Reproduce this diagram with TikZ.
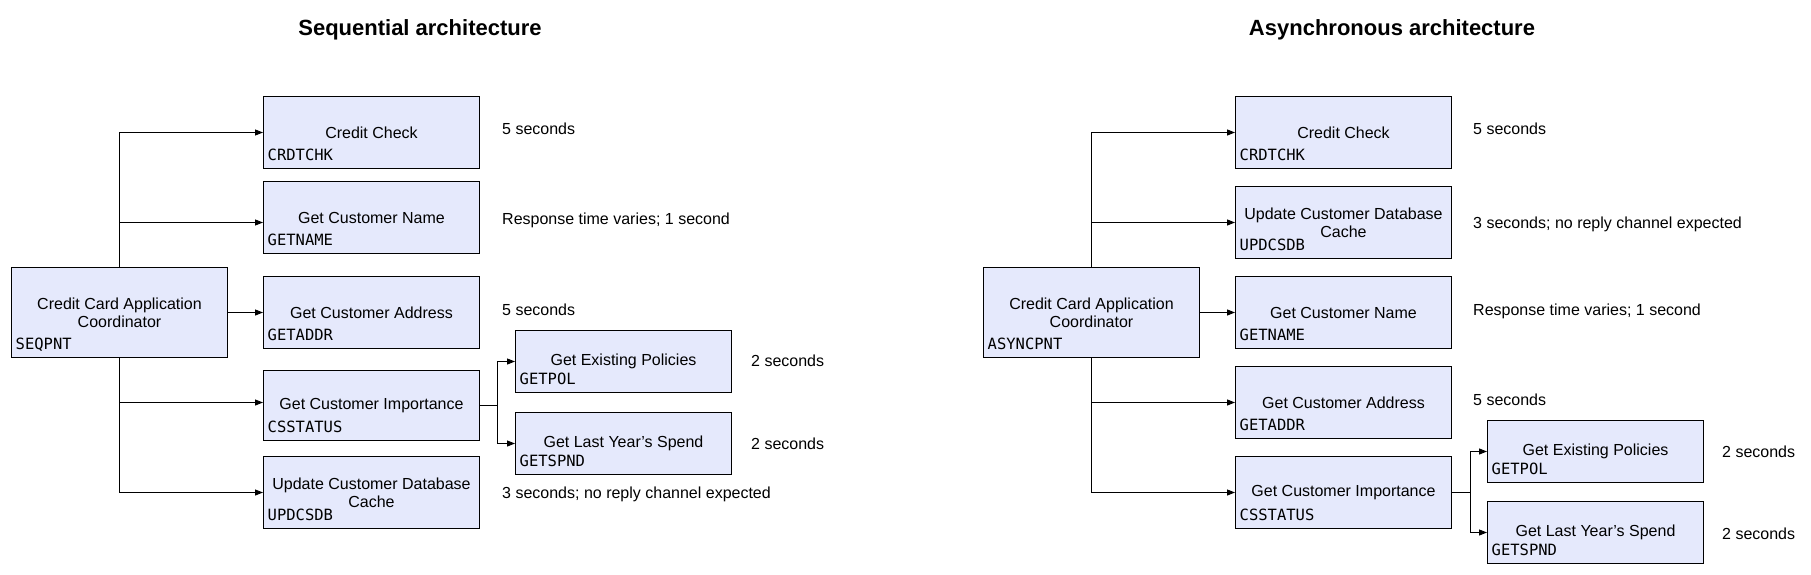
\documentclass[tikz,border=0pt]{standalone}
\usepackage{fontspec}
\setmainfont{Liberation Sans}
\newfontfamily\monof{DejaVu Sans Mono}
\usetikzlibrary{arrows.meta,calc}
\definecolor{boxfill}{RGB}{229,233,252}
\begin{document}
\begin{tikzpicture}[x=1pt,y=-1pt,
  box/.style={draw=black,fill=boxfill,line width=1pt,inner sep=0pt,
    minimum width=216pt,minimum height=72pt,align=center,
    font=\fontsize{16}{18.4}\selectfont},
  subbox/.style={box,minimum height=62pt},
  idlbl/.style={anchor=base west,inner sep=0pt,font=\monof\fontsize{15.5}{18}\selectfont},
  note/.style={anchor=west,inner sep=0pt,text height=11.5pt,text depth=0pt,
    font=\fontsize{16}{18.4}\selectfont},
  ttl/.style={inner sep=0pt,text height=15.8pt,text depth=0pt,
    font=\bfseries\fontsize{22}{26}\selectfont},
  conn/.style={line width=1pt},
  arr/.style={conn,-{Triangle[length=8pt,width=6pt]}}]
\useasboundingbox (0,0) rectangle (1811,575);

% ---------------- Sequential architecture ----------------
\node[ttl] (ttlL) at (420,27.7) {Sequential architecture};

\node[box,minimum height=90pt] (coordL) at (119.5,312.5) {Credit Card Application\\Coordinator};
\node[box] (ccL)   at (371.5,132.5) {Credit Check};
\node[box] (nameL) at (371.5,217.5) {Get Customer Name};
\node[box] (addrL) at (371.5,312.5) {Get Customer Address};
\node[box,minimum height=70pt] (impL) at (371.5,405.5) {Get Customer Importance};
\node[box] (updL)  at (371.5,492.5) {Update Customer Database\\Cache};
\node[subbox] (polL) at (623.5,361.5) {Get Existing Policies};
\node[subbox] (spnL) at (623.5,443.5) {Get Last Year’s Spend};

\node[idlbl] (coordLid) at ([xshift=4.5pt,yshift=9pt]coordL.south west) {SEQPNT};
\node[idlbl] (ccLid)    at ([xshift=4.5pt,yshift=9pt]ccL.south west) {CRDTCHK};
\node[idlbl] (nameLid)  at ([xshift=4.5pt,yshift=9pt]nameL.south west) {GETNAME};
\node[idlbl] (addrLid)  at ([xshift=4.5pt,yshift=9pt]addrL.south west) {GETADDR};
\node[idlbl] (impLid)   at ([xshift=4.5pt,yshift=9pt]impL.south west) {CSSTATUS};
\node[idlbl] (updLid)   at ([xshift=4.5pt,yshift=9pt]updL.south west) {UPDCSDB};
\node[idlbl] (polLid)   at ([xshift=4.5pt,yshift=9pt]polL.south west) {GETPOL};
\node[idlbl] (spnLid)   at ([xshift=4.5pt,yshift=9pt]spnL.south west) {GETSPND};

\node[note] (nccL)   at (502,129) {5 seconds};
\node[note] (nnameL) at (502,219) {Response time varies; 1 second};
\node[note] (naddrL) at (502,310) {5 seconds};
\node[note] (npolL)  at (751,361) {2 seconds};
\node[note] (nspnL)  at (751,444) {2 seconds};
\node[note] (nupdL)  at (502,493) {3 seconds; no reply channel expected};

\draw[arr] (coordL.north) |- (ccL.west);
\draw[arr] (coordL.north) |- ([yshift=-5pt]nameL.west);
\draw[arr] (coordL.east) -- (addrL.west);
\draw[arr] (coordL.south) |- ([yshift=3pt]impL.west);
\draw[arr] (coordL.south) |- (updL.west);
\draw[conn] (impL.east) -- ++(17,0) coordinate (brL);
\draw[arr] (brL) |- (polL.west);
\draw[arr] (brL) |- (spnL.west);

% ---------------- Asynchronous architecture ----------------
\node[ttl] (ttlR) at (1392,27.7) {Asynchronous architecture};

\node[box,minimum height=90pt] (coordR) at (1091.5,312.5) {Credit Card Application\\Coordinator};
\node[box] (ccR)   at (1343.5,132.5) {Credit Check};
\node[box] (updR)  at (1343.5,222.5) {Update Customer Database\\Cache};
\node[box] (nameR) at (1343.5,312.5) {Get Customer Name};
\node[box] (addrR) at (1343.5,402.5) {Get Customer Address};
\node[box] (impR)  at (1343.5,492.5) {Get Customer Importance};
\node[subbox] (polR) at (1595.5,451.5) {Get Existing Policies};
\node[subbox] (spnR) at (1595.5,532.5) {Get Last Year’s Spend};

\node[idlbl] (coordRid) at ([xshift=4.5pt,yshift=9pt]coordR.south west) {ASYNCPNT};
\node[idlbl] (ccRid)    at ([xshift=4.5pt,yshift=9pt]ccR.south west) {CRDTCHK};
\node[idlbl] (updRid)   at ([xshift=4.5pt,yshift=9pt]updR.south west) {UPDCSDB};
\node[idlbl] (nameRid)  at ([xshift=4.5pt,yshift=9pt]nameR.south west) {GETNAME};
\node[idlbl] (addrRid)  at ([xshift=4.5pt,yshift=9pt]addrR.south west) {GETADDR};
\node[idlbl] (impRid)   at ([xshift=4.5pt,yshift=9pt]impR.south west) {CSSTATUS};
\node[idlbl] (polRid)   at ([xshift=4.5pt,yshift=9pt]polR.south west) {GETPOL};
\node[idlbl] (spnRid)   at ([xshift=4.5pt,yshift=9pt]spnR.south west) {GETSPND};

\node[note] (nccR)   at (1473,129) {5 seconds};
\node[note] (nupdR)  at (1473,223) {3 seconds; no reply channel expected};
\node[note] (nnameR) at (1473,310) {Response time varies; 1 second};
\node[note] (naddrR) at (1473,399.5) {5 seconds};
\node[note] (npolR)  at (1722,451.7) {2 seconds};
\node[note] (nspnR)  at (1722,534) {2 seconds};

\draw[arr] (coordR.north) |- (ccR.west);
\draw[arr] (coordR.north) |- (updR.west);
\draw[arr] (coordR.east) -- (nameR.west);
\draw[arr] (coordR.south) |- (addrR.west);
\draw[arr] (coordR.south) |- (impR.west);
\draw[conn] (impR.east) -- ++(18,0) coordinate (brR);
\draw[arr] (brR) |- (polR.west);
\draw[arr] (brR) |- (spnR.west);
\end{tikzpicture}
\end{document}
